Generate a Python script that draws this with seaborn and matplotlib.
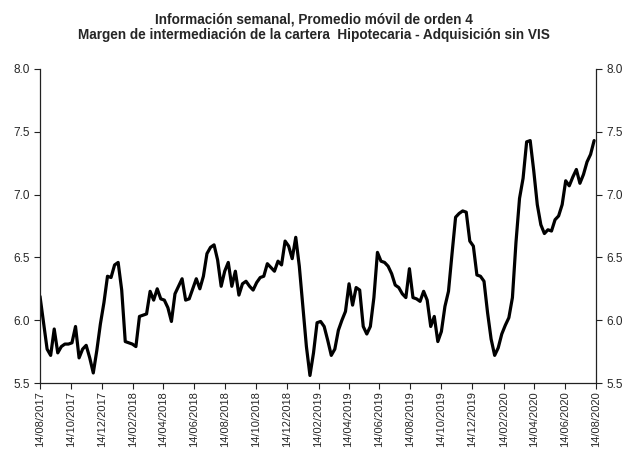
import matplotlib
matplotlib.use("Agg")
import matplotlib.pyplot as plt
import matplotlib.dates as mdates
import seaborn as sns
import pandas as pd

# Margen de intermediación semanal (promedio móvil orden 4), Hipotecaria - Adquisición sin VIS
start_date = "2017-08-14"
margen = [
    6.19, 5.98, 5.77, 5.72, 5.93, 5.74, 5.79, 5.81, 5.81, 5.82,
    5.95, 5.70, 5.77, 5.80, 5.70, 5.58, 5.76, 5.97, 6.14, 6.35,
    6.34, 6.44, 6.46, 6.24, 5.83, 5.82, 5.81, 5.79, 6.03, 6.04,
    6.05, 6.23, 6.16, 6.25, 6.17, 6.16, 6.10, 5.99, 6.21, 6.27,
    6.33, 6.16, 6.17, 6.25, 6.33, 6.25, 6.35, 6.53, 6.58, 6.60,
    6.48, 6.27, 6.39, 6.46, 6.27, 6.39, 6.20, 6.29, 6.31, 6.27,
    6.24, 6.30, 6.34, 6.35, 6.45, 6.42, 6.39, 6.47, 6.44, 6.63,
    6.59, 6.49, 6.66, 6.43, 6.11, 5.79, 5.56, 5.74, 5.98, 5.99,
    5.95, 5.84, 5.72, 5.77, 5.92, 6.00, 6.07, 6.29, 6.12, 6.26,
    6.24, 5.95, 5.89, 5.95, 6.18, 6.54, 6.47, 6.46, 6.43, 6.37,
    6.28, 6.26, 6.21, 6.18, 6.41, 6.18, 6.17, 6.15, 6.23, 6.16,
    5.95, 6.03, 5.83, 5.91, 6.11, 6.23, 6.53, 6.82, 6.85, 6.87,
    6.86, 6.63, 6.59, 6.36, 6.35, 6.31, 6.06, 5.85, 5.72, 5.78,
    5.89, 5.96, 6.02, 6.18, 6.62, 6.97, 7.13, 7.42, 7.43, 7.19,
    6.92, 6.76, 6.69, 6.72, 6.71, 6.80, 6.83, 6.92, 7.11, 7.07,
    7.14, 7.20, 7.09, 7.16, 7.26, 7.32, 7.43,
]
fechas = pd.date_range(start_date, periods=len(margen), freq="7D")
# ticks cada dos meses, el dia 14
tick_fechas = pd.date_range("2017-08-01", "2020-08-01", freq="2MS") + pd.Timedelta(days=13)

df = pd.DataFrame({"fecha": fechas, "margen": margen})

sns.set_style("white")
plt.rcParams["font.family"] = ["Liberation Sans", "DejaVu Sans"]

fig = plt.figure(figsize=(6.27, 4.53), dpi=100)
ax = fig.add_axes([0.0638, 0.1545, 0.887, 0.6932])

sns.lineplot(data=df, x="fecha", y="margen", color="black", linewidth=2.3, ax=ax)

ax.set_xlim(pd.Timestamp("2017-08-14"), pd.Timestamp("2020-08-14"))
ax.set_ylim(5.5, 8.0)
ax.set_yticks([5.5, 6.0, 6.5, 7.0, 7.5, 8.0])
ax.yaxis.set_major_formatter(matplotlib.ticker.FormatStrFormatter("%.1f"))
ax.set_xticks(tick_fechas)
ax.xaxis.set_major_formatter(mdates.DateFormatter("%d/%m/%Y"))
ax.tick_params(axis="x", labelrotation=90, labelsize=8, length=4, width=0.8,
               direction="out", bottom=True, color="#222222", pad=2)
ax.tick_params(axis="y", labelsize=8.5, length=4, width=0.8, direction="out",
               left=True, right=True, labelright=True, color="#222222")
ax.set_xlabel("")
ax.set_ylabel("")

ax.spines["top"].set_visible(False)
for s in ["left", "right", "bottom"]:
    ax.spines[s].set_color("#222222")
    ax.spines[s].set_linewidth(0.9)

fig.suptitle("Información semanal, Promedio móvil de orden 4\n"
             "Margen de intermediación de la cartera  Hipotecaria - Adquisición sin VIS",
             fontsize=9.8, fontweight="bold", x=0.5, y=0.972, linespacing=1.15)

fig.savefig("out.png", dpi=100, facecolor="white")
